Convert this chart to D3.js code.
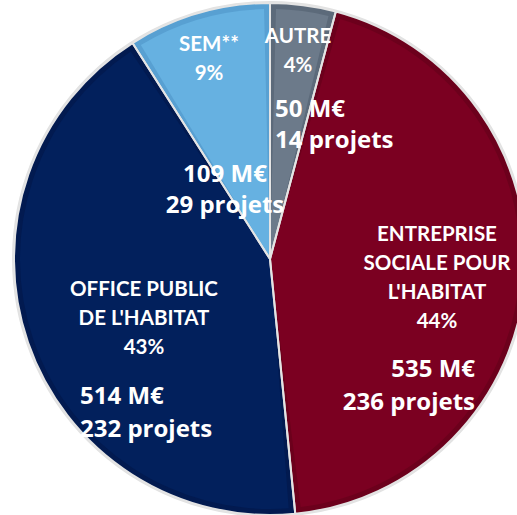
<!DOCTYPE html>
<html>
<head>
<meta charset="utf-8">
<script src="https://cdn.jsdelivr.net/npm/d3@7/dist/d3.min.js"></script>
<style>
html,body{margin:0;padding:0;background:#fff;}
svg{display:block;}
</style>
</head>
<body>
<svg id="chart" width="517" height="515"></svg>
<script>
// ---- data ----
const categories = ["AUTRE", "ENTREPRISE SOCIALE POUR L'HABITAT", "OFFICE PUBLIC DE L'HABITAT", "SEM**"];
const categoryLines = [["AUTRE"], ["ENTREPRISE", "SOCIALE POUR", "L'HABITAT"], ["OFFICE PUBLIC", "DE L'HABITAT"], ["SEM**"]];
const amounts = [50, 535, 514, 109];      // M€
const projects = [14, 236, 232, 29];
const percents = [4, 44, 43, 9];

// ---- styles / layout ----
const colors = ["#6c7a8a", "#7b0021", "#02205c", "#66b1e1"];
const edgeColors = ["#5c6a7a", "#6c001c", "#021a50", "#58a0d2"];
const W = 517, H = 515;
const cx = 270, cy = 259, R = 256;

// label anchors (layout)
const catLayout = [
  {x: 298, y: 43, lh: 28.5},
  {x: 437, y: 241, lh: 29},
  {x: 144, y: 295.5, lh: 29},
  {x: 209, y: 51, lh: 28.5}
];
const valLayout = [
  {x: 275, y: 117, anchor: "start", lh: 31},
  {x: 475, y: 377, anchor: "end", lh: 33},
  {x: 80, y: 404, anchor: "start", lh: 33},
  {x: 225, y: 182, anchor: "middle", lh: 31}
];

const svg = d3.select("#chart");
const g = svg.append("g").attr("transform", `translate(${cx},${cy})`);

const pie = d3.pie().sort(null).value(d => d).startAngle(0).endAngle(2 * Math.PI);
const arcs = pie(amounts);

const arcFull = d3.arc().innerRadius(0).outerRadius(R);
const arcInner = d3.arc().innerRadius(0).outerRadius(R - 6).padAngle(12 / R).padRadius(R);

// soft outer halo
g.append("circle").attr("r", R + 1).attr("fill", "none").attr("stroke", "#e2e2e2").attr("stroke-width", 2);

// darker edge base
g.selectAll("path.base").data(arcs).join("path")
  .attr("class", "base")
  .attr("d", arcFull)
  .attr("fill", (d, i) => edgeColors[i]);

// main fill inset
g.selectAll("path.fill").data(arcs).join("path")
  .attr("class", "fill")
  .attr("d", arcInner)
  .attr("fill", (d, i) => colors[i]);

// separators
g.selectAll("path.sep").data(arcs).join("path")
  .attr("class", "sep")
  .attr("d", arcFull)
  .attr("fill", "none")
  .attr("stroke", "#e4e4e4")
  .attr("stroke-width", 2)
  .attr("stroke-linejoin", "round");

// category labels
const catG = svg.append("g")
  .attr("font-family", "Lato, 'Open Sans', sans-serif")
  .attr("font-weight", 700)
  .attr("font-size", 20.5)
  .attr("fill", "#ffffff")
  .attr("text-anchor", "middle");

categories.forEach((c, i) => {
  const L = catLayout[i];
  const lines = categoryLines[i].concat([percents[i] + "%"]);
  const t = catG.append("text").attr("x", L.x).attr("y", L.y);
  lines.forEach((ln, k) => {
    t.append("tspan").attr("x", L.x).attr("y", L.y + k * L.lh).text(ln);
  });
});

// value labels
const valG = svg.append("g")
  .attr("font-family", "'Open Sans', 'Noto Sans', sans-serif")
  .attr("font-weight", 700)
  .attr("font-size", 24)
  .attr("fill", "#ffffff");

amounts.forEach((a, i) => {
  const L = valLayout[i];
  const t = valG.append("text").attr("text-anchor", L.anchor);
  t.append("tspan").attr("x", L.x).attr("y", L.y).text(a + " M€");
  t.append("tspan").attr("x", L.x).attr("y", L.y + L.lh).text(projects[i] + " projets");
});
</script>
</body>
</html>
